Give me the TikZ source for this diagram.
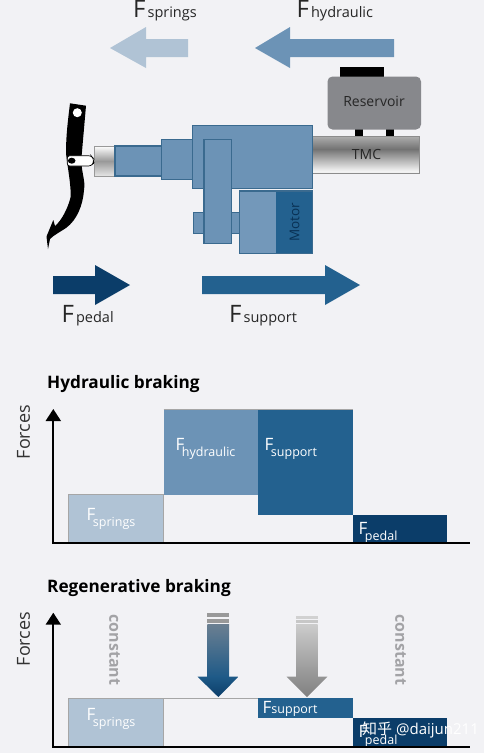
\documentclass[tikz,border=0pt]{standalone}
\usepackage{fontspec}
\setmainfont{Open Sans}
\newfontfamily\cjk{Noto Sans CJK SC}
\usetikzlibrary{arrows.meta}
\definecolor{paper}{HTML}{F2F2F5}
\definecolor{springblue}{HTML}{B0C3D5}
\definecolor{hydroblue}{HTML}{6C93B6}
\definecolor{supportblue}{HTML}{23618F}
\definecolor{pedalblue}{HTML}{0B3D69}
\definecolor{edgeblue}{HTML}{3A6A8F}
\definecolor{tankgray}{HTML}{87888C}
\definecolor{wordgray}{HTML}{A3A3A6}
\pgfdeclareverticalshading{tmcshade}{100bp}{
    color(0bp)=(gray!80);
    color(12bp)=(white!90!black);
    color(28bp)=(white!95!black);
    color(58bp)=(black!55);
    color(85bp)=(white!80!black);
    color(100bp)=(white!70!black)
}
\tikzstyle{force} = [
    anchor=base west,
    inner sep=0pt,
    text=black!85
]
\tikzstyle{barlabel} = [
    anchor=base west,
    inner sep=0pt,
    text=white
]
\tikzstyle{title} = [
    anchor=base west,
    inner sep=0pt,
    font=\fontsize{17.2}{17}\selectfont\bfseries
]
\tikzstyle{axislabel} = [
    rotate=90,
    inner sep=0pt,
    text=black!80,
    font=\fontsize{18}{18}\selectfont
]
\tikzstyle{constantlabel} = [
    rotate=-90,
    inner sep=0pt,
    text=wordgray,
    font=\fontsize{16}{16}\selectfont\bfseries
]
\tikzstyle{part} = [
    fill=hydroblue,
    draw=edgeblue,
    line width=1.2pt
]
\tikzstyle{axis} = [
    line width=2pt,
    -{Triangle[length=12pt,width=15pt]}
]
\tikzstyle{bar} = [
    draw=black!35,
    line width=0.5pt
]
\newcommand{\bigforce}[1]{{\fontsize{24}{24}\selectfont F}\hspace{2pt}{\fontsize{14.5}{16}\selectfont #1}}
\newcommand{\barforce}[1]{{\fontsize{17}{17}\selectfont F}\hspace{-2.5pt}\raisebox{-6.5pt}{\fontsize{12.5}{14}\selectfont #1}}
\begin{document}
\begin{tikzpicture}[x=1pt,y=-1pt]

\useasboundingbox (0,0) rectangle (490,753);

\fill [white] (0,0) rectangle (490,753);

\fill [paper] (0,0) rectangle (484,753);

\fill [springblue] (110,48) -- (146,27) -- (146,39) -- (188,39) -- (188,57) -- (146,57) -- (146,68) -- cycle;

\fill [hydroblue] (255,48) -- (290,27) -- (290,39) -- (394,39) -- (394,57) -- (290,57) -- (290,68) -- cycle;

\fill [pedalblue] (130,285) -- (95,265) -- (95,276) -- (53,276) -- (53,294) -- (95,294) -- (95,305) -- cycle;

\fill [supportblue] (360,285) -- (325,265) -- (325,276) -- (202,276) -- (202,294) -- (325,294) -- (325,305) -- cycle;

\node (labelsprings) [force] at (133,17) {\bigforce{springs}};

\node (labelhydraulic) [force] at (296.5,17) {\bigforce{hydraulic}};

\node (labelpedal) [force] at (61.5,322) {\bigforce{pedal}};

\node (labelsupport) [force] at (229,322) {\bigforce{support}};

\fill [black] (340,67) rectangle (384,77);

\fill [black] (355,128) rectangle (363,137);

\fill [black] (386,128) rectangle (394,137);

\fill [tankgray, rounded corners=5pt] (327.5,76.5) rectangle (421,129.5);

\node (reservoir) [text=black!85, font=\fontsize{14}{14}\selectfont] at (374,101.5) {Reservoir};

\draw [draw=black!45, line width=1pt, shading=tmcshade] (312,136.7) rectangle (419.3,173);

\node (tmc) [text=black!85, font=\fontsize{14}{14}\selectfont] at (366.5,154) {TMC};

\draw [draw=black!40, line width=1pt, top color=white, bottom color=white!90!black, middle color=black!40] (94.5,146) rectangle (115,176);

\draw [part] (115,146) rectangle (161.5,176);

\draw [part] (161.5,139.5) rectangle (192.5,179.5);

\draw [part] (192.5,125.7) rectangle (312.7,188.3);

\draw [part] (193.5,212.5) rectangle (240,233.5);

\draw [part] (204,139.5) rectangle (231.3,243.3);

\fill [hydroblue!95!white] (239.5,191) rectangle (276,253.3);

\fill [supportblue] (275.7,191) rectangle (312.7,253.3);

\draw [draw=edgeblue, line width=1.2pt] (239.5,191) rectangle (312.7,253.3);

\node (motor) [rotate=90, text=pedalblue!80!black, font=\fontsize{13.5}{14}\selectfont] at (294.5,222) {Motor};

\fill [black] (70,103.3) -- (86,105.7) -- (81.7,155) .. controls (80,170) and (86,180) .. (84,190)
    .. controls (83,205) and (77,220) .. (66,228) .. controls (60,232) and (54,235) .. (50,239)
    -- (48,249) -- (46.5,236.5) -- (53.3,220) -- (55,226) .. controls (62,220) and (68,208) .. (70.7,196.7)
    .. controls (71,185) and (68,170) .. (66,153.3) .. controls (66,135) and (68,120) .. (70,103.3) -- cycle;

\fill [white] (77.3,112.7) circle (4.5);

\draw [black, fill=white, line width=0.7pt, rounded corners=2.5pt] (67.3,155.7) -- (91,155.7) -- (93.5,158.5) -- (93.5,163) -- (91,166) -- (67.3,166) -- cycle;

\fill [black] (71.7,160.7) ellipse (3.8 and 3);

\node (hydrotitle) [title] at (47,388) {Hydraulic braking};

\node (hydroforces) [axislabel] at (23.5,432) {Forces};

\fill [springblue] (68.3,494.5) rectangle (163.7,542.7);

\fill [hydroblue] (163.7,409.3) rectangle (257.7,495);

\fill [supportblue] (257.7,409.3) rectangle (352.7,514.5);

\fill [pedalblue] (352.7,514.5) rectangle (446.7,542.7);

\draw [bar] (68.3,542.7) -- (68.3,494.5) -- (163.7,494.5) -- (163.7,542.7);

\draw [bar] (163.7,409.3) -- (352.7,409.3);

\node (hydrosprings) [barlabel] at (86.5,520) {\barforce{springs}};

\node (hydrohydraulic) [barlabel] at (175.5,450) {\barforce{hydraulic}};

\node (hydrosupport) [barlabel] at (264.5,450) {\barforce{support}};

\node (hydropedal) [barlabel] at (358.5,534) {\barforce{pedal}};

\coordinate (hydroorigin) at (53.3,542.7);

\coordinate (hydrotop) at (53.3,409);

\coordinate (hydroend) at (470,542.7);

\draw [axis] (hydroorigin) -- (hydrotop);

\draw [line width=2pt] (52.3,542.7) -- (hydroend);

\node (regentitle) [title] at (47,592) {Regenerative braking};

\node (regenforces) [axislabel] at (23.5,639) {Forces};

\node (constantleft) [constantlabel] at (114.5,650) {constant};

\node (constantright) [constantlabel] at (400.5,650) {constant};

\fill [black!40] (207.3,613) rectangle (229,617);

\fill [black!40] (207.3,619) rectangle (229,623);

\shade [top color=black!35!hydroblue!80, bottom color=supportblue!80!pedalblue] (207.3,624) rectangle (229,677);

\shade [top color=supportblue!80!pedalblue, bottom color=pedalblue] (197.5,676.7) -- (238.5,676.7) -- (218.3,697) -- cycle;

\fill [black!18] (296,616) rectangle (317.7,619);

\fill [black!22] (296,620) rectangle (317.7,623);

\shade [top color=black!20, bottom color=black!42] (296,624) rectangle (317.7,677);

\shade [top color=black!42, bottom color=black!50] (286.7,676.7) -- (327.3,676.7) -- (307,697) -- cycle;

\fill [springblue] (68.3,698.3) rectangle (163.7,746.7);

\fill [supportblue] (257.7,698.3) rectangle (352.7,718.3);

\fill [pedalblue] (352.7,718.3) rectangle (446.7,746.7);

\draw [bar] (68.3,746.7) -- (68.3,698.3) -- (257.7,698.3);

\draw [bar] (163.7,698.3) -- (163.7,746.7);

\node (regensprings) [barlabel] at (86.5,720) {\barforce{springs}};

\node (regensupport) [barlabel] at (262.5,713.5) {{\fontsize{17}{17}\selectfont F}{\fontsize{12.5}{14}\selectfont support}};

\node (regenpedal) [barlabel] at (358.5,737.5) {\barforce{pedal}};

\node (watermark) [barlabel, font=\fontsize{15}{15}\selectfont] at (362,734.5) {{\cjk 知乎} @daijun211};

\coordinate (regenorigin) at (53.3,746.7);

\coordinate (regentop) at (53.3,612.7);

\coordinate (regenend) at (470,746.7);

\draw [axis] (regenorigin) -- (regentop);

\draw [line width=2pt] (52.3,746.7) -- (regenend);

\end{tikzpicture}
\end{document}
